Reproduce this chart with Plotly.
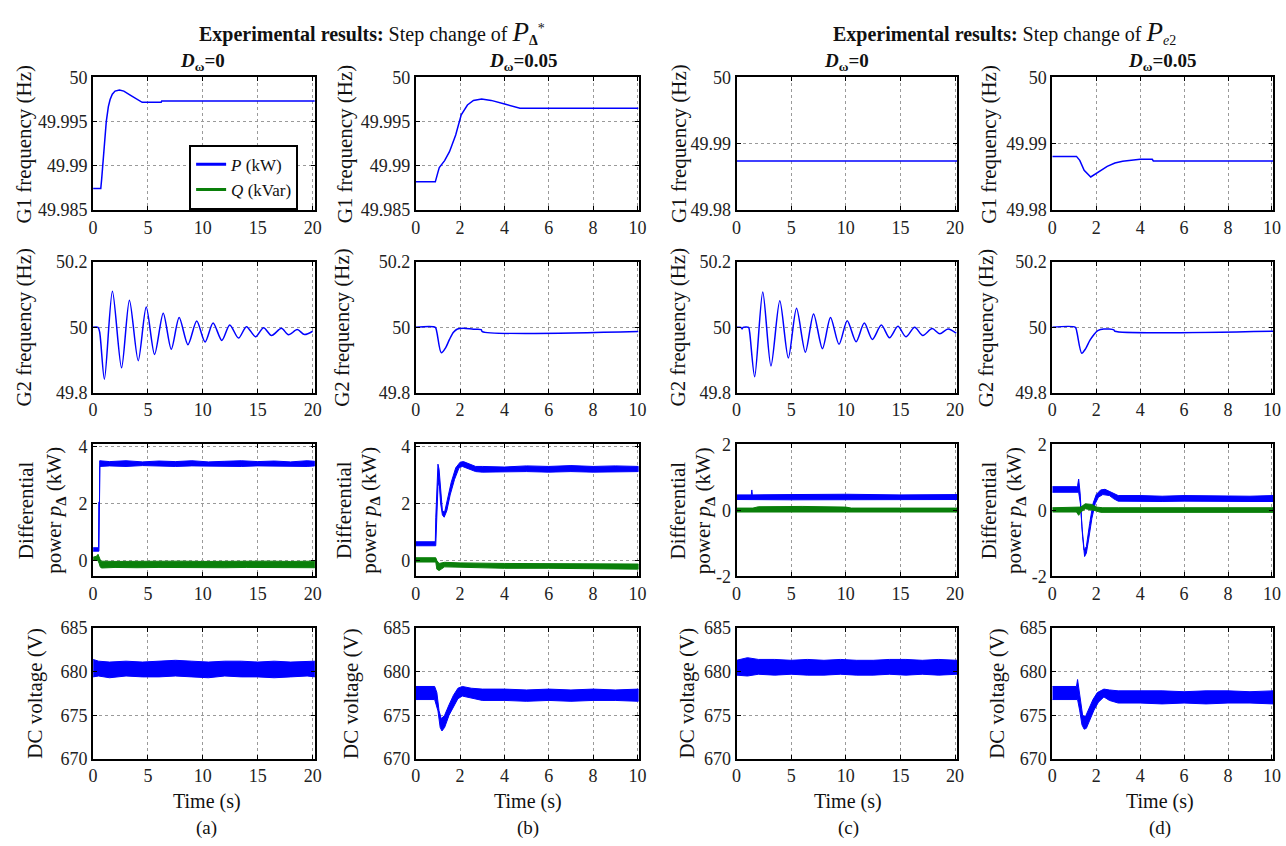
import plotly.graph_objects as go

W, H = 1286, 846
FONT = "Liberation Serif"
BLUE = "#0000ff"
GREEN = "#0a7f0a"

# ---------------- G1 frequency (Hz) ----------------
t_g1_a = [0, 0.7, 0.78, 0.9, 1.03, 1.2, 1.39, 1.55, 1.75, 2.0, 2.4, 2.8, 3.38, 3.8, 4.11, 4.47, 6.2, 6.25, 20.2]
f_g1_a = [49.98745, 49.98745, 49.9885, 49.9905, 49.9929, 49.9950, 49.9967, 49.9975, 49.9981, 49.99845,
          49.99858, 49.99845, 49.9980, 49.99765, 49.99745, 49.99718, 49.99718, 49.99733, 49.99733]

t_g1_b = [0, 0.88, 1.0, 1.06, 1.3, 1.52, 1.8, 2.05, 2.33, 2.6, 2.97, 3.4, 4.05, 4.5, 4.7, 10.05]
f_g1_b = [49.9882, 49.9882, 49.9893, 49.9898, 49.9906, 49.9916, 49.9935, 49.99576, 49.99688, 49.9974,
          49.99756, 49.9974, 49.99696, 49.9967, 49.99651, 49.99651]

t_g1_c = [0, 20.2]
f_g1_c = [49.9874, 49.9874]

t_g1_d = [0, 1.1, 1.25, 1.45, 1.75, 2.1, 2.5, 2.85, 3.2, 3.6, 4.0, 4.55, 4.6, 10.05]
f_g1_d = [49.9881, 49.9881, 49.9875, 49.9860, 49.9850, 49.9857, 49.9866, 49.9871, 49.98736, 49.9875,
          49.98766, 49.98766, 49.9874, 49.9874]

# ---------------- G2 frequency (Hz) ----------------
t_g2_a = [0, 0.45, 0.6, 1.03, 1.76, 2.59, 3.31, 4.11, 4.84, 5.6, 6.39, 7.12, 7.84, 8.64, 9.44, 10.2,
          10.93, 11.73, 12.45, 13.25, 13.97, 14.8, 15.53, 16.25, 17.16, 17.8, 18.6, 19.26, 20.0]
f_g2_a = [50.0, 50.0, 49.985, 49.841, 50.11, 49.876, 50.083, 49.898, 50.062, 49.917, 50.043, 49.933,
          50.03, 49.947, 50.019, 49.955, 50.013, 49.96, 50.007, 49.967, 50.002, 49.971, 49.999, 49.975,
          49.997, 49.977, 49.993, 49.978, 49.988]

t_g2_b = [0, 0.88, 0.95, 1.15, 1.35, 1.52, 1.7, 1.88, 2.15, 2.6, 2.95, 3.0, 10.05]
f_g2_b = [50.0, 50.0, 49.985, 49.922, 49.938, 49.963, 49.985, 49.995, 49.997, 49.994, 49.993, 49.987, 49.987]

t_g2_c = [0, 0.4, 0.5, 0.6, 1.1, 1.2, 1.66, 2.4, 3.15, 3.96, 4.74, 5.49, 6.3, 7.05, 7.86, 8.6, 9.38,
          10.13, 10.94, 11.69, 12.43, 13.25, 14.0, 14.77, 15.5, 16.3, 17.05, 17.9, 18.6, 19.35, 20.1]
f_g2_c = [50.0, 50.0, 49.995, 50.0, 50.0, 49.985, 49.849, 50.108, 49.882, 50.081, 49.906, 50.058,
          49.924, 50.041, 49.935, 50.03, 49.948, 50.02, 49.956, 50.013, 49.963, 50.007, 49.968, 50.003,
          49.971, 50.0, 49.975, 49.996, 49.98, 49.995, 49.982]

t_g2_d = [0, 1.05, 1.12, 1.34, 1.52, 1.71, 1.9, 2.07, 2.35, 2.8, 2.85, 10.05]
f_g2_d = [50.0, 50.0, 49.985, 49.921, 49.935, 49.96, 49.978, 49.99, 49.995, 49.992, 49.988, 49.988]

# ---------------- Differential power (kW): upper / lower envelopes ----------------
t_pa_hi = [0, 0.5, 0.52, 0.58, 0.6, 1.5, 3, 4.5, 6, 7.5, 9, 10.5, 12, 13.5, 15, 16.5, 18, 19.5, 20.2]
pa_hi = [0.45, 0.45, 2.05, 2.05, 3.5, 3.47, 3.5, 3.46, 3.49, 3.47, 3.5, 3.46, 3.48, 3.5, 3.47, 3.49, 3.46, 3.5, 3.48]
t_pa_lo = [0, 0.53, 0.55, 0.6, 0.62, 1.5, 3, 4.5, 6, 7.5, 9, 10.5, 12, 13.5, 15, 16.5, 18, 19.5, 20.2]
pa_lo = [0.33, 0.33, 1.95, 1.95, 3.3, 3.32, 3.3, 3.33, 3.31, 3.3, 3.32, 3.3, 3.31, 3.3, 3.32, 3.3, 3.31, 3.3, 3.32]
t_qa_hi = [0, 0.3, 0.45, 0.52, 0.6, 0.7, 2, 4, 6, 8, 10, 12, 14, 16, 18, 20.2]
qa_hi = [0.12, 0.15, 0.22, 0.14, 0.05, -0.02, -0.03, -0.02, -0.03, -0.02, -0.03, -0.02, -0.03, -0.02, -0.03, -0.02]
t_qa_lo = [0, 0.45, 0.55, 0.65, 0.75, 2, 4, 6, 8, 10, 12, 14, 16, 18, 20.2]
qa_lo = [0.02, 0.0, -0.1, -0.22, -0.26, -0.24, -0.25, -0.24, -0.25, -0.24, -0.25, -0.24, -0.25, -0.24, -0.25]

t_pb_hi = [0, 0.88, 0.9, 0.95, 1.0, 1.05, 1.12, 1.2, 1.3, 1.45, 1.6, 1.8, 2.0, 2.15, 2.4, 2.7, 3, 4, 5, 6, 7, 8, 9, 10.05]
pb_hi = [0.66, 0.66, 1.5, 2.9, 3.38, 3.2, 2.5, 1.75, 1.7, 2.2, 2.75, 3.25, 3.45, 3.47, 3.38, 3.3, 3.3, 3.28, 3.32,
         3.3, 3.33, 3.3, 3.32, 3.3]
t_pb_lo = [0, 0.9, 0.93, 1.0, 1.05, 1.12, 1.2, 1.28, 1.4, 1.55, 1.75, 1.95, 2.1, 2.4, 2.7, 3, 4, 5, 6, 7, 8, 9, 10.05]
pb_lo = [0.52, 0.52, 1.0, 2.6, 2.8, 2.0, 1.6, 1.52, 1.75, 2.3, 2.85, 3.25, 3.3, 3.22, 3.12, 3.1, 3.1, 3.12, 3.1,
         3.12, 3.1, 3.1, 3.12]
t_qb = [0, 0.9, 0.95, 1.05, 1.3, 2, 4, 6, 8, 10.05]
qb_hi = [0.1, 0.1, 0.0, -0.1, -0.06, -0.08, -0.1, -0.1, -0.1, -0.12]
qb_lo = [-0.05, -0.05, -0.3, -0.35, -0.22, -0.25, -0.27, -0.27, -0.28, -0.3]

t_pc_hi = [0, 1.35, 1.4, 1.45, 5, 10, 15, 20.2]
pc_hi = [0.47, 0.47, 0.62, 0.47, 0.48, 0.49, 0.47, 0.48]
t_pc_lo = [0, 5, 10, 15, 20.2]
pc_lo = [0.33, 0.32, 0.33, 0.32, 0.33]
t_qc = [0, 1.5, 2, 6, 10, 10.5, 15, 20.2]
qc_hi = [0.07, 0.07, 0.11, 0.12, 0.1, 0.07, 0.07, 0.07]
qc_lo = [-0.05, -0.05, -0.04, -0.04, -0.05, -0.05, -0.05, -0.05]

t_pd_hi = [0, 1.1, 1.15, 1.2, 1.27, 1.35, 1.45, 1.55, 1.7, 1.85, 2.0, 2.2, 2.4, 2.6, 2.8, 3.0, 4, 5, 6, 7, 8, 9, 10.05]
pd_hi = [0.72, 0.72, 0.75, 0.95, 0.5, -0.5, -1.2, -1.1, -0.4, 0.2, 0.48, 0.62, 0.64, 0.58, 0.52, 0.45, 0.45,
         0.43, 0.45, 0.44, 0.45, 0.43, 0.45]
t_pd_lo = [0, 1.2, 1.28, 1.38, 1.47, 1.55, 1.65, 1.8, 1.95, 2.1, 2.3, 2.6, 2.8, 3.0, 4, 5, 6, 7, 8, 9, 10.05]
pd_lo = [0.55, 0.55, 0.2, -0.8, -1.4, -1.3, -0.9, -0.25, 0.2, 0.4, 0.48, 0.45, 0.35, 0.28, 0.28, 0.27, 0.28,
         0.27, 0.28, 0.27, 0.27]
t_qd_hi = [0, 1.1, 1.3, 1.5, 1.8, 2.0, 2.3, 3, 10.05]
qd_hi = [0.08, 0.08, 0.1, 0.2, 0.18, 0.1, 0.08, 0.08, 0.08]
t_qd_lo = [0, 1.1, 1.2, 1.3, 1.5, 1.9, 2.2, 10.05]
qd_lo = [-0.05, -0.05, -0.15, -0.05, 0.05, 0.0, -0.06, -0.06]

# ---------------- DC voltage (V): upper / lower envelopes ----------------
t_dc_a = [0, 0.5, 1.5, 3, 4.5, 6, 7.5, 9, 10.5, 12, 13.5, 15, 16.5, 18, 19.5, 20.2]
dca_hi = [681.4, 681.2, 681.1, 681.2, 681.1, 681.2, 681.3, 681.2, 681.1, 681.2, 681.2, 681.1, 681.2, 681.1, 681.2, 681.2]
dca_lo = [679.4, 679.5, 679.3, 679.5, 679.4, 679.4, 679.5, 679.4, 679.3, 679.5, 679.4, 679.4, 679.3, 679.4, 679.5, 679.4]

t_dc_c = [0, 1, 2, 3.5, 5, 6.5, 8, 9.5, 11, 12.5, 14, 15.5, 17, 18.5, 20.2]
dcc_hi = [681.3, 681.6, 681.4, 681.4, 681.3, 681.4, 681.3, 681.4, 681.3, 681.3, 681.4, 681.4, 681.3, 681.4, 681.3]
dcc_lo = [679.6, 679.5, 679.7, 679.6, 679.7, 679.6, 679.6, 679.7, 679.6, 679.6, 679.7, 679.6, 679.7, 679.6, 679.7]

t_dcb_hi = [0, 0.85, 0.95, 1.05, 1.15, 1.3, 1.5, 1.7, 1.9, 2.1, 2.5, 3, 4, 5, 6, 7, 8, 9, 10.05]
dcb_hi = [678.3, 678.3, 677.6, 675.5, 674.6, 675.0, 676.2, 677.3, 678.1, 678.3, 678.1, 678.0, 678.0, 677.9,
          678.0, 677.9, 678.0, 677.9, 678.0]
t_dcb_lo = [0, 0.85, 1.0, 1.1, 1.18, 1.3, 1.5, 1.7, 1.9, 2.1, 2.5, 3, 4, 5, 6, 7, 8, 9, 10.05]
dcb_lo = [676.8, 676.8, 675.5, 673.6, 673.2, 673.6, 675.0, 676.0, 676.9, 677.2, 677.0, 676.7, 676.7, 676.6,
          676.7, 676.6, 676.7, 676.7, 676.6]

t_dcd_hi = [0, 1.1, 1.15, 1.2, 1.28, 1.38, 1.5, 1.65, 1.85, 2.05, 2.35, 2.6, 3, 4, 5, 6, 7, 8, 9, 10.05]
dcd_hi = [678.3, 678.3, 679.1, 678.2, 676.5, 675.0, 674.8, 675.6, 676.8, 677.6, 678.0, 677.9, 677.8, 677.8,
          677.8, 677.7, 677.8, 677.8, 677.7, 677.8]
t_dcd_lo = [0, 1.15, 1.25, 1.35, 1.45, 1.55, 1.7, 1.9, 2.1, 2.35, 2.6, 3, 4, 5, 6, 7, 8, 9, 10.05]
dcd_lo = [676.8, 676.8, 675.5, 673.9, 673.4, 673.5, 674.3, 675.6, 676.5, 677.1, 676.7, 676.4, 676.4, 676.3,
          676.4, 676.3, 676.4, 676.4, 676.3]

# ---------------- axes ----------------
x_ticks_long = [0, 5, 10, 15, 20]
x_ticks_short = [0, 2, 4, 6, 8, 10]
g1_ticks_fine = [49.985, 49.99, 49.995, 50]
g1_text_fine = ["49.985", "49.99", "49.995", "50"]
g1_ticks_coarse = [49.98, 49.99, 50]
g1_text_coarse = ["49.98", "49.99", "50"]
g2_ticks = [49.8, 50, 50.2]
g2_text = ["49.8", "50", "50.2"]
p_ticks_pos = [0, 2, 4]
p_text_pos = ["0", "2", "4"]
p_ticks_sym = [-2, 0, 2]
p_text_sym = ["-2", "0", "2"]
dc_ticks = [670, 675, 680, 685]
dc_text = ["670", "675", "680", "685"]

y_ticks = {
    (0, 0): (g1_ticks_fine, g1_text_fine), (0, 1): (g1_ticks_fine, g1_text_fine),
    (0, 2): (g1_ticks_coarse, g1_text_coarse), (0, 3): (g1_ticks_coarse, g1_text_coarse),
    (2, 0): (p_ticks_pos, p_text_pos), (2, 1): (p_ticks_pos, p_text_pos),
    (2, 2): (p_ticks_sym, p_text_sym), (2, 3): (p_ticks_sym, p_text_sym),
}
for c in range(4):
    y_ticks[(1, c)] = (g2_ticks, g2_text)
    y_ticks[(3, c)] = (dc_ticks, dc_text)

y_ranges = {
    0: [[49.985, 50], [49.985, 50], [49.98, 50], [49.98, 50]],
    1: [[49.8, 50.2]] * 4,
    2: [[-0.55, 4.07], [-0.55, 4.07], [-2, 2], [-2, 2]],
    3: [[670, 685]] * 4,
}

COLS = [(89, 313), (415, 640), (739, 962), (1058, 1281)]
ROWS = [(69, 205), (258, 392), (445, 580), (633, 767)]

fig = go.Figure()
layout = {}


def ax_id(r, c):
    return r * 4 + c + 1


for r in range(4):
    for c in range(4):
        k = ax_id(r, c)
        x0, x1 = COLS[c]
        y0, y1 = ROWS[r]
        long_t = c in (0, 2)
        common = dict(showline=True, linecolor="black", linewidth=2, mirror="ticks",
                      ticks="inside", ticklen=4, tickcolor="black", tickwidth=1,
                      showgrid=True, gridcolor="#9a9a9a", griddash="dot", gridwidth=1,
                      zeroline=False, tickfont=dict(family=FONT, size=18, color="#222"))
        layout[f"xaxis{k}"] = dict(common, domain=[x0 / W, x1 / W], anchor=f"y{k}",
                                   range=[0, 20.2] if long_t else [0, 10.05],
                                   tickvals=x_ticks_long if long_t else x_ticks_short)
        tv, tt = y_ticks[(r, c)]
        layout[f"yaxis{k}"] = dict(common, domain=[1 - y1 / H, 1 - y0 / H], anchor=f"x{k}",
                                   range=y_ranges[r][c], tickvals=tv, ticktext=tt)


def line(t, v, r, c, shape="linear"):
    k = ax_id(r, c)
    fig.add_trace(go.Scatter(x=t, y=v, mode="lines", xaxis=f"x{k}", yaxis=f"y{k}",
                             line=dict(color=BLUE, width=1.5, shape=shape, smoothing=0.8),
                             showlegend=False, hoverinfo="skip"))


def band(t_hi, hi, t_lo, lo, r, c, color):
    k = ax_id(r, c)
    xs = list(t_hi) + list(t_lo)[::-1]
    ys = list(hi) + list(lo)[::-1]
    fig.add_trace(go.Scatter(x=xs, y=ys, mode="lines", fill="toself", fillcolor=color,
                             xaxis=f"x{k}", yaxis=f"y{k}", line=dict(color=color, width=1),
                             showlegend=False, hoverinfo="skip"))


# G1 frequency
line(t_g1_a, f_g1_a, 0, 0)
line(t_g1_b, f_g1_b, 0, 1)
line(t_g1_c, f_g1_c, 0, 2)
line(t_g1_d, f_g1_d, 0, 3)
# G2 frequency
line(t_g2_a, f_g2_a, 1, 0, "spline")
line(t_g2_b, f_g2_b, 1, 1, "spline")
line(t_g2_c, f_g2_c, 1, 2, "spline")
line(t_g2_d, f_g2_d, 1, 3, "spline")
# Differential power P and Q
band(t_pa_hi, pa_hi, t_pa_lo, pa_lo, 2, 0, BLUE)
band(t_qa_hi, qa_hi, t_qa_lo, qa_lo, 2, 0, GREEN)
band(t_pb_hi, pb_hi, t_pb_lo, pb_lo, 2, 1, BLUE)
band(t_qb, qb_hi, t_qb, qb_lo, 2, 1, GREEN)
band(t_pc_hi, pc_hi, t_pc_lo, pc_lo, 2, 2, BLUE)
band(t_qc, qc_hi, t_qc, qc_lo, 2, 2, GREEN)
band(t_pd_hi, pd_hi, t_pd_lo, pd_lo, 2, 3, BLUE)
band(t_qd_hi, qd_hi, t_qd_lo, qd_lo, 2, 3, GREEN)
# DC voltage
band(t_dc_a, dca_hi, t_dc_a, dca_lo, 3, 0, BLUE)
band(t_dcb_hi, dcb_hi, t_dcb_lo, dcb_lo, 3, 1, BLUE)
band(t_dc_c, dcc_hi, t_dc_c, dcc_lo, 3, 2, BLUE)
band(t_dcd_hi, dcd_hi, t_dcd_lo, dcd_lo, 3, 3, BLUE)

# legend entries
for name, col in [("<i>P</i> (kW)", BLUE), ("<i>Q</i> (kVar)", GREEN)]:
    fig.add_trace(go.Scatter(x=[None], y=[None], mode="lines", name=name,
                             line=dict(color=col, width=3), xaxis="x1", yaxis="y1"))

# ---------------- text ----------------
ann = []


def text(s, x, y, size=18, angle=0, **kw):
    ann.append(dict(text=s, x=x / W, y=1 - y / H, xref="paper", yref="paper", showarrow=False,
                    xanchor="center", yanchor="middle", textangle=angle,
                    font=dict(family=FONT, size=size, color="#111"), **kw))


text("<b>Experimental results:</b> Step change of <span style='font-size:27px'><i>P</i></span>"
     "<sub><b>Δ</b></sub><sup>*</sup>", 371, 23, size=20)
text("<b>Experimental results:</b> Step change of <span style='font-size:27px'><i>P</i></span>"
     "<sub><i>e</i>2</sub>", 1010, 23, size=20)
for c, s in enumerate(["0", "0.05", "0", "0.05"]):
    xc = [200, 524, 850, 1169][c]
    text("<b><i>D</i><sub>ω</sub>=" + s + "</b>", xc, 53, size=19)

y_titles = ["G1 frequency (Hz)", "G2 frequency (Hz)", None, "DC voltage (V)"]
offsets = [[70, 72, 58, 64], [69.5, 74, 59, 67], None, [58.5, 65, 50, 55.5]]
diff_offsets = [(67, 38), (72, 46), (59, 32), (64, 37)]
for r in range(4):
    for c in range(4):
        yc = (ROWS[r][0] + ROWS[r][1]) / 2
        if y_titles[r] is None:
            o1, o2 = diff_offsets[c]
            text("Differential", COLS[c][0] - o1, yc, size=21, angle=-90)
            text("power <i>p</i><sub><b>Δ</b></sub> (kW)", COLS[c][0] - o2, yc, size=21, angle=-90)
        else:
            text(y_titles[r], COLS[c][0] - offsets[r][c], yc, size=21, angle=-90)

for c, lab in enumerate(["(a)", "(b)", "(c)", "(d)"]):
    xc = [204, 528, 852, 1167][c]
    text("Time (s)", xc, 811, size=20)
    text(lab, xc, 838, size=19)

layout.update(
    width=W, height=H, margin=dict(l=0, r=0, t=0, b=0),
    paper_bgcolor="white", plot_bgcolor="white",
    annotations=ann,
    showlegend=True,
    legend=dict(x=186 / W, y=1 - 138 / H, xanchor="left", yanchor="top",
                bgcolor="white", bordercolor="black", borderwidth=2,
                font=dict(family=FONT, size=17, color="#111"), itemwidth=30,
                tracegroupgap=0),
)
fig.update_layout(layout)
fig.write_html("out.html")
